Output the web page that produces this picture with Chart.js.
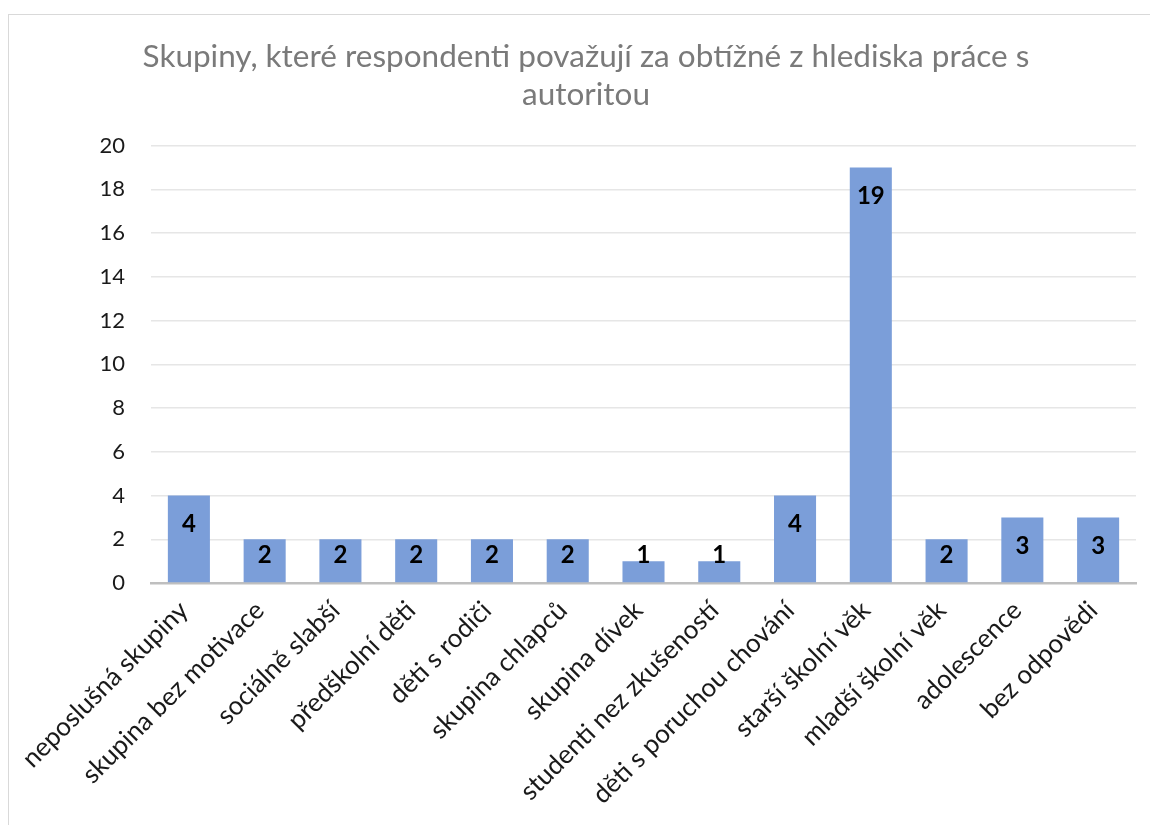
<!DOCTYPE html>
<html>
<head>
<meta charset="utf-8">
<script src="https://cdn.jsdelivr.net/npm/chart.js@4"></script>
<style>
  body { margin: 0; background: #fff; overflow: hidden; }
  #frame {
    position: absolute; left: 8px; top: 14px; width: 1200px; height: 830px;
    border: 1px solid #d9d9d9; box-sizing: border-box;
  }
  #wrap { position: absolute; left: 0; top: 0; width: 1150px; height: 825px; }
</style>
</head>
<body>
<div id="frame"></div>
<div id="wrap"><canvas id="myChart" width="1150" height="825"></canvas></div>
<script>
const titleLines = [
  "Skupiny, které respondenti považují za obtížné z hlediska práce s",
  "autoritou",
];

const labels = [
  "neposlušná skupiny",
  "skupina bez motivace",
  "sociálně slabší",
  "předškolní děti",
  "děti s rodiči",
  "skupina chlapců",
  "skupina dívek",
  "studenti nez zkušeností",
  "děti s poruchou chování",
  "starší školní věk",
  "mladší školní věk",
  "adolescence",
  "bez odpovědi",
];

const values = [4, 2, 2, 2, 2, 2, 1, 1, 4, 19, 2, 3, 3];

const yMax = 20;
const yStep = 2;

const FONT = "Lato, 'Open Sans', sans-serif";
const TITLE_SIZE = 31.5;
const TITLE_LH = 1.2;

//bar value labels, drawn inside end like excel
const barLabels = {
  id: "barLabels",
  afterDatasetsDraw(chart) {
    const ctx = chart.ctx;
    const meta = chart.getDatasetMeta(0);
    ctx.save();
    ctx.font = "bold 24px " + FONT;
    ctx.fillStyle = "#000";
    ctx.textAlign = "center";
    ctx.textBaseline = "middle";
    meta.data.forEach((bar, i) => {
      const y = Math.min(bar.y + 29, bar.base - 27);
      ctx.fillText(String(values[i]), bar.x, y);
    });
    ctx.restore();
  },
};

//title is centred on the whole excel frame, not on the canvas
const frameTitle = {
  id: "frameTitle",
  afterDraw(chart) {
    const ctx = chart.ctx;
    const tb = chart.titleBlock;
    const lh = TITLE_SIZE * TITLE_LH;
    ctx.save();
    ctx.font = TITLE_SIZE + "px " + FONT;
    ctx.fillStyle = "#7a7a7a";
    ctx.textAlign = "center";
    ctx.textBaseline = "middle";
    titleLines.forEach((line, i) => {
      ctx.fillText(line, 586, tb.top + 38 + lh * (i + 0.5));
    });
    ctx.restore();
  },
};

function chart1() {
  const ctx = document.getElementById("myChart").getContext("2d");

  const data = {
    labels,
    datasets: [
      {
        data: values,
        backgroundColor: "#7b9ed9",
        borderWidth: 0,
        categoryPercentage: 1,
        barPercentage: 0.555,
      },
    ],
  };

  const config = {
    type: "bar",
    data: data,
    plugins: [barLabels, frameTitle],
    options: {
      responsive: false,
      animation: false,
      layout: {
        padding: { left: 0, right: 14, top: 0, bottom: 0 },
      },
      plugins: {
        legend: { display: false },
        tooltip: { enabled: false },
        title: {
          display: true,
          text: titleLines,
          color: "rgba(0,0,0,0)",
          font: { family: FONT, size: TITLE_SIZE, weight: "normal", lineHeight: TITLE_LH },
          padding: { top: 38, bottom: 32 },
        },
      },
      scales: {
        y: {
          min: 0,
          max: yMax,
          afterFit: (scale) => {
            scale.width = 151;
          },
          ticks: {
            stepSize: yStep,
            color: "#1a1a1a",
            padding: 26,
            font: { family: FONT, size: 22 },
          },
          grid: {
            drawTicks: false,
            color: (c) => (c.tick && c.tick.value === 0 ? "rgba(0,0,0,0)" : "#e6e6e6"),
            lineWidth: 1.5,
          },
          border: { display: false },
        },
        x: {
          afterFit: (scale) => {
            scale.height = 242;
          },
          ticks: {
            autoSkip: false,
            maxRotation: 45,
            minRotation: 45,
            color: "#1a1a1a",
            padding: 12,
            labelOffset: -5,
            font: { family: FONT, size: 26 },
          },
          grid: { display: false, drawTicks: false },
          border: { display: true, color: "#bfbfbf", width: 2.5 },
        },
      },
    },
  };

  const myChart = new Chart(ctx, config);
}

chart1();
</script>
</body>
</html>
